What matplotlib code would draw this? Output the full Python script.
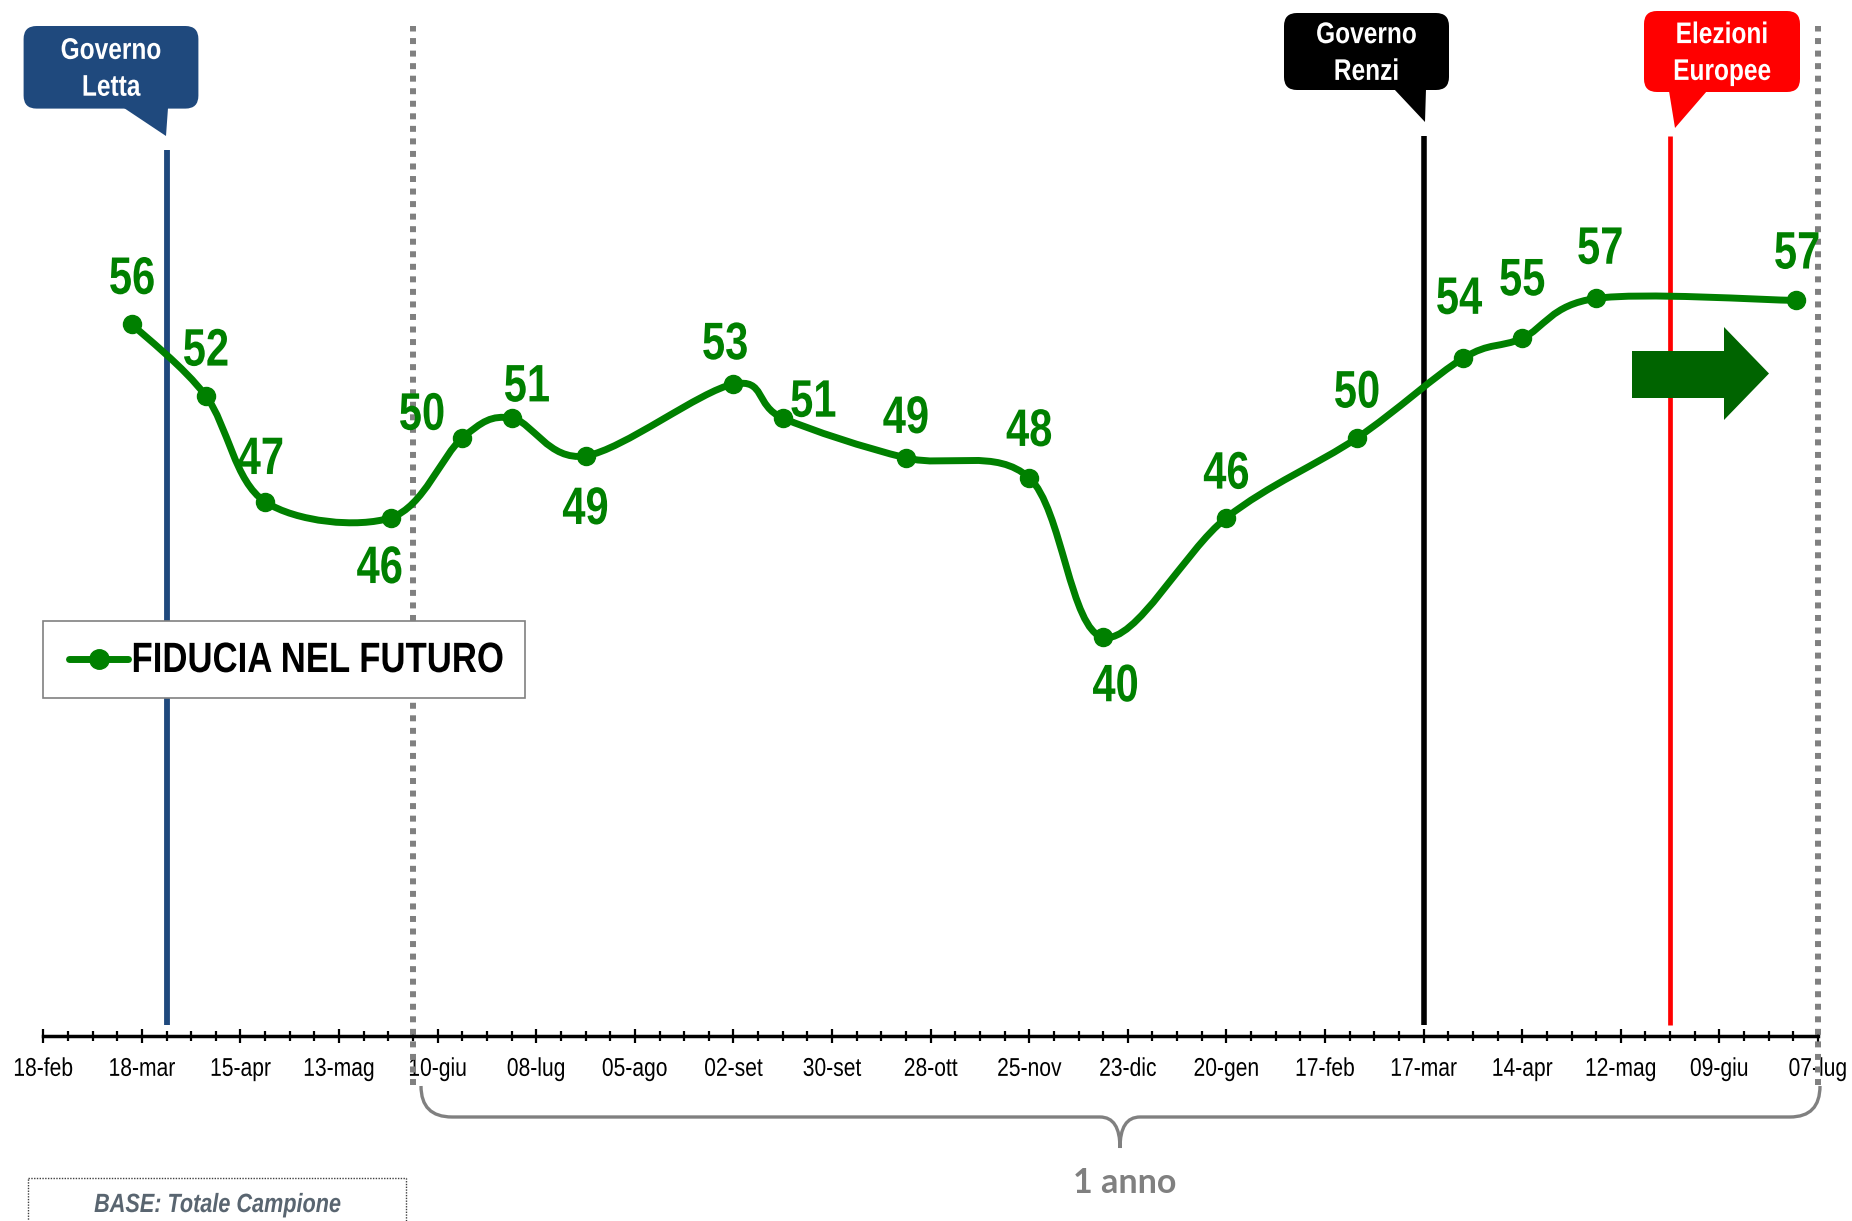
import numpy as np
import matplotlib
matplotlib.use("Agg")
import matplotlib.pyplot as plt
from matplotlib.path import Path
from matplotlib.patches import PathPatch, FancyBboxPatch, Polygon, Rectangle
from matplotlib.patheffects import AbstractPathEffect
from matplotlib.transforms import Affine2D

# Arial-metric font; squeezed below to look like Arial Narrow
plt.rcParams['font.family'] = ['Liberation Sans', 'DejaVu Sans']

## data: x in weeks counted from 18-feb-2013
weeks = [3.6, 6.6, 9.0, 14.1, 17.0, 19.0, 22.0, 28.0, 30.0, 35.0,
         40.0, 43.0, 48.0, 53.3, 57.6, 60.0, 63.0, 71.1]
fiducia = [55.7, 52.1, 46.8, 46.0, 50.0, 51.0, 49.1, 52.7, 51.0, 49.0,
           48.0, 40.0, 46.0, 50.0, 54.0, 55.0, 57.0, 56.9]
fiducia_labels = ["56", "52", "47", "46", "50", "51", "49", "53", "51", "49",
                  "48", "40", "46", "50", "54", "55", "57", "57"]
tick_labels = ["18-feb", "18-mar", "15-apr", "13-mag", "10-giu", "08-lug",
               "05-ago", "02-set", "30-set", "28-ott", "25-nov", "23-dic",
               "20-gen", "17-feb", "17-mar", "14-apr", "12-mag", "09-giu", "07-lug"]
event_names = ["Governo\nLetta", "Governo\nRenzi", "Elezioni\nEuropee"]
event_weeks = [5, 56, 66]
period_weeks = [15, 72]
series_name = "FIDUCIA NEL FUTURO"

## styles / layout
GREEN = "#008000"
event_colors = ["#1F497D", "#000000", "#FF0000"]
event_widths = [4.2, 4.0, 3.4]
event_tops = [64.44, 65.15, 65.15]
# label offsets from the marker, in points
label_offsets = [(0, 36), (0, 36), (-3, 34), (-8, -33), (-29, 20), (11, 26),
                 (0, -35), (-6, 32), (22, 15), (0, 32), (0, 37), (9, -32),
                 (0, 35), (0, 36), (-3, 46), (0, 45), (3, 39), (1, 37)]

W, H = 1852, 1221
DPI = 100


class Narrow(AbstractPathEffect):
    """Squeeze glyphs horizontally (Arial -> Arial Narrow look)."""

    def __init__(self, sx=0.82, anchor="center"):
        super().__init__()
        self._sx = sx
        self._anchor = anchor

    def draw_path(self, renderer, gc, tpath, affine, rgbFace=None):
        ext = tpath.get_extents()
        cx = ext.x0 if self._anchor == "left" else (ext.x0 + ext.x1) / 2
        squeeze = Affine2D().translate(-cx, 0).scale(self._sx, 1).translate(cx, 0)
        renderer.draw_path(gc, tpath, squeeze + affine, rgbFace)


NARROW = [Narrow(0.82)]


def smooth_path(xs, ys):
    ## Excel-like smoothed line (Catmull-Rom as cubic Bezier)
    pts = np.column_stack([xs, ys]).astype(float)
    n = len(pts)
    verts = [pts[0]]
    codes = [Path.MOVETO]
    for i in range(n - 1):
        p0 = pts[max(i - 1, 0)]
        p1 = pts[i]
        p2 = pts[i + 1]
        p3 = pts[min(i + 2, n - 1)]
        verts += [p1 + (p2 - p0) / 6, p2 - (p3 - p1) / 6, p2]
        codes += [Path.CURVE4] * 3
    return Path(verts, codes)


def callout(ax, box, tail, color, text):
    x0, y0, x1, y1 = box
    ax.add_patch(FancyBboxPatch((x0, y0), x1 - x0, y1 - y0,
                                boxstyle="round,pad=0,rounding_size=13",
                                fc=color, ec="none"))
    ax.add_patch(Polygon(tail, closed=True, fc=color, ec="none"))
    ax.text((x0 + x1) / 2, (y0 + y1) / 2 + 2, text, color="white", fontsize=21.5,
            fontweight="bold", ha="center", va="center", linespacing=1.4,
            path_effects=NARROW)


fig = plt.figure(figsize=(W / DPI, H / DPI), dpi=DPI)
ax = fig.add_axes([0, 0, 1, 1])
ax.set_xlim(-1.757, 73.38)
ax.set_ylim(10.72, 71.97)

## event lines and period lines
for w, c, lw, top in zip(event_weeks, event_colors, event_widths, event_tops):
    ax.plot([w, w], [20.55, top], color=c, lw=lw, solid_capstyle="butt", zorder=1)
for w in period_weeks:
    ax.plot([w, w], [17.54, 70.67], color="#808080", lw=4.3,
            linestyle=(0, (1, 1.1)), dash_capstyle="butt", zorder=2)

## the series
ax.add_patch(PathPatch(smooth_path(weeks, fiducia), fc="none", ec=GREEN,
                       lw=5, capstyle="round", zorder=3))
ax.plot(weeks, fiducia, "o", color=GREEN, ms=13, zorder=4)
for x, y, lab, off in zip(weeks, fiducia, fiducia_labels, label_offsets):
    ax.annotate(lab, (x, y), xytext=off, textcoords="offset points",
                ha="center", va="center_baseline", color=GREEN, fontsize=38,
                fontweight="bold", zorder=5, path_effects=[Narrow(0.79)])

## x axis
for s in ["top", "left", "right"]:
    ax.spines[s].set_visible(False)
ax.spines["bottom"].set_position(("data", 20))
ax.spines["bottom"].set_bounds(0, 72)
ax.spines["bottom"].set_linewidth(2.5)
ax.set_yticks([])
ax.set_xticks(range(0, 73, 4))
ax.set_xticklabels(tick_labels, fontsize=18.5)
ax.set_xticks(range(0, 73), minor=True)
ax.tick_params(axis="x", which="major", direction="inout", length=10, width=1.6, pad=10)
ax.tick_params(axis="x", which="minor", direction="inout", length=7, width=1.6)
for lab in ax.get_xticklabels():
    lab.set_path_effects(NARROW)

## decorations in pixel coordinates
deco = fig.add_axes([0, 0, 1, 1])
deco.set_xlim(0, W)
deco.set_ylim(H, 0)
deco.axis("off")
deco.patch.set_alpha(0)

## legend box
deco.add_patch(Rectangle((43, 621), 482, 77, fc="white", ec="#808080", lw=1.2))
deco.plot([69, 128], [659, 659], color=GREEN, lw=5, solid_capstyle="round")
deco.plot([98.5], [659], "o", color=GREEN, ms=14)
deco.text(131, 672, series_name, fontsize=30.5, fontweight="bold", color="black",
          ha="left", va="baseline", path_effects=[Narrow(0.82, "left")])

callout(deco, (23.6, 26, 198.4, 108.6), [(124, 108), (168, 108), (166, 136)],
        event_colors[0], event_names[0])
callout(deco, (1284, 13, 1449, 90), [(1394, 89), (1426, 89), (1425, 122)],
        event_colors[1], event_names[1])
callout(deco, (1644, 11, 1800, 92), [(1669, 91), (1707, 91), (1675, 128)],
        event_colors[2], event_names[2])

## block arrow
deco.add_patch(Polygon([(1632, 351), (1724, 351), (1724, 327), (1769, 373.5),
                        (1724, 420), (1724, 398), (1632, 398)],
                       closed=True, fc="#006400", ec="none"))

## brace under the last year
brace = Path([(421, 1086), (421, 1117), (452, 1117), (1100, 1117),
              (1120, 1117), (1120, 1148), (1120, 1117), (1140, 1117),
              (1790, 1117), (1820, 1117), (1820, 1086)],
             [Path.MOVETO, Path.CURVE3, Path.CURVE3, Path.LINETO,
              Path.CURVE3, Path.CURVE3, Path.CURVE3, Path.CURVE3,
              Path.LINETO, Path.CURVE3, Path.CURVE3])
deco.add_patch(PathPatch(brace, fc="none", ec="#808080", lw=2.4))
deco.text(1124.5, 1193, "1 anno", family=["Lato", "DejaVu Sans"], fontweight="bold",
          fontsize=24.5, color="#808080", ha="center", va="baseline")

## base box
deco.add_patch(Rectangle((28, 1178), 378, 60, fc="none", ec="#404040",
                         lw=1, linestyle=(0, (1, 1))))
deco.text(217.5, 1212, "BASE: Totale Campione", fontsize=19, fontweight="bold",
          fontstyle="italic", color="#596570", ha="center", va="baseline",
          path_effects=NARROW)

fig.savefig("out.png", dpi=DPI)
